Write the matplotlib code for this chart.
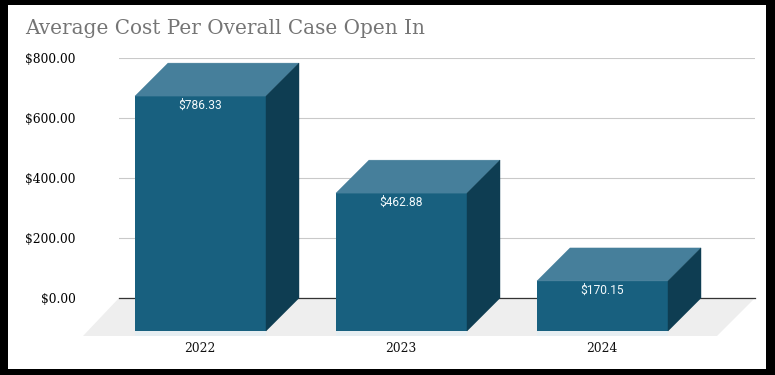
import matplotlib
matplotlib.use("Agg")
import matplotlib.pyplot as plt
from matplotlib.patches import Polygon, Rectangle
from matplotlib.transforms import ScaledTranslation

years = ["2022", "2023", "2024"]
costs = [786.33, 462.88, 170.15]
labels = ["$786.33", "$462.88", "$170.15"]
y_ticks = [0, 200, 400, 600, 800]
y_tick_labels = ["$0.00", "$200.00", "$400.00", "$600.00", "$800.00"]
title = "Average Cost Per Overall Case Open In"

W, H = 775, 375
FRONT = "#18607F"
TOP = "#467F9B"
SIDE = "#0E3D52"
pt = 0.72  # px to points at dpi 100

fig = plt.figure(figsize=(W / 100, H / 100), dpi=100, facecolor="black")
fig.add_artist(Rectangle((8 / W, 1 - 369 / H), 758 / W, 364 / H,
                         transform=fig.transFigure, fc="white", ec="none", zorder=-5))

ax = fig.add_axes([119 / W, 1 - 298 / H, 636 / W, 240 / H], facecolor="none")
step_px = 201.0
x_of = lambda px: (px - 200.5) / step_px
ax.set_xlim(x_of(119), x_of(755))
ax.set_ylim(0, 800)
unit_y = 240 / 800  # px per dollar
dx, dy = 33 / step_px, 33 / unit_y
half = 131 / step_px / 2
inset = 1 / unit_y  # renderer draws the tops about a pixel below the value

# floor
fl_dy = 38 / unit_y
ax.add_patch(Polygon([(x_of(119), 0), (x_of(755), 0),
                      (x_of(717), -fl_dy), (x_of(83), -fl_dy)],
                     closed=True, fc="#EEEEEE", ec="none", zorder=1, clip_on=False))

xs = list(range(len(years)))
for x in xs:
    ax.add_patch(Rectangle((x - half, -fl_dy), 2 * half, fl_dy - dy,
                           fc="#E6EEF2", ec="none", zorder=1.2, clip_on=False))

heights = [v - inset for v in costs]
bars = ax.bar(xs, heights, bottom=-dy, width=2 * half, color=FRONT, zorder=3, clip_on=False)
for x, v, lab in zip(xs, heights, labels):
    l, r = x - half, x + half
    front_top = v - dy
    ax.add_patch(Polygon([(l, front_top), (r, front_top), (r + dx, v), (l + dx, v)],
                         closed=True, fc=TOP, ec=TOP, lw=0.3, zorder=3, clip_on=False))
    ax.add_patch(Polygon([(r, front_top), (r + dx, v), (r + dx, 0), (r, -dy)],
                         closed=True, fc=SIDE, ec=SIDE, lw=0.3, zorder=3, clip_on=False))
    ax.annotate(lab, (x, front_top), xytext=(-0.5 * pt, -9 * pt), textcoords="offset points",
                ha="center", va="center", color="#F4FAFC", fontsize=12 * pt,
                family="Roboto", zorder=5)

ax.set_yticks(y_ticks, y_tick_labels)
ax.set_xticks(xs, years)
ax.tick_params(axis="y", length=0, pad=43 * pt, labelsize=12.2 * pt, labelcolor="black")
ax.tick_params(axis="x", length=0, pad=44 * pt, labelsize=12.2 * pt, labelcolor="#111111")
for lab in ax.get_xticklabels() + ax.get_yticklabels():
    lab.set_family("DejaVu Serif")
shift = ScaledTranslation(-1 / 100, 0, fig.dpi_scale_trans)
for lab in ax.get_xticklabels():
    lab.set_transform(lab.get_transform() + shift)
ax.grid(axis="y", color="#C9C9C9", lw=0.8, zorder=0.5)
ax.grid(axis="x", visible=False)
ax.set_axisbelow(True)
for s in ["top", "left", "right"]:
    ax.spines[s].set_visible(False)
ax.spines["bottom"].set_color("#333333")
ax.spines["bottom"].set_linewidth(0.9)
ax.spines["bottom"].set_zorder(2)

fig.text(25 / W, 1 - 28.5 / H, title, family="DejaVu Serif", fontsize=19.95 * pt,
         color="#757575", ha="left", va="center")

fig.savefig("out.png", dpi=100, facecolor="black")
